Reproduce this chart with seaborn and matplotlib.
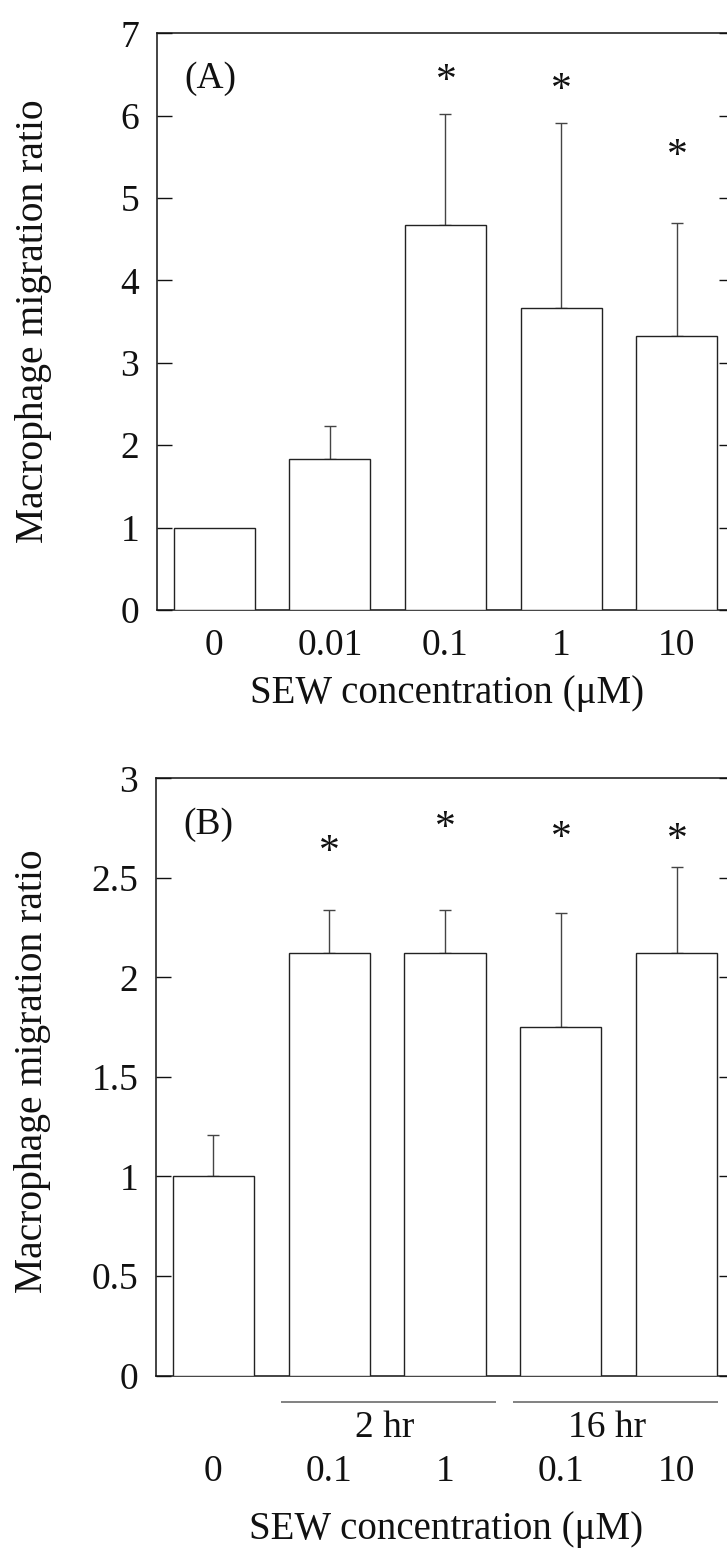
import matplotlib
matplotlib.use("Agg")
import matplotlib.pyplot as plt
import matplotlib.transforms as mtransforms
from matplotlib.ticker import FuncFormatter, MultipleLocator
import numpy as np
import pandas as pd
import seaborn as sns

# ---- data -------------------------------------------------------------
# (A) dose response
conc_a = ["0", "0.01", "0.1", "1", "10"]
ratio_a = [1.0, 1.83, 4.67, 3.66, 3.33]
err_a = [0.0, 0.40, 1.35, 2.25, 1.37]
signif_a = [False, False, True, True, True]
star_y_a = [None, None, 6.51, 6.41, 5.60]

# (B) time course
cond_b = ["ctrl", "2h_0.1", "2h_1", "16h_0.1", "16h_10"]
conc_b = ["0", "0.1", "1", "0.1", "10"]
ratio_b = [1.0, 2.12, 2.12, 1.75, 2.12]
err_b = [0.21, 0.22, 0.22, 0.575, 0.435]
signif_b = [False, True, True, True, True]
star_y_b = [None, 2.67, 2.79, 2.74, 2.73]
time_groups = ["2 hr", "16 hr"]

ylabel = "Macrophage migration ratio"
xlabel = "SEW concentration (\u03bcM)"

# ---- style ------------------------------------------------------------
sns.set_theme(style="ticks")
plt.rcParams["font.family"] = ["Liberation Serif", "DejaVu Serif"]
plt.rcParams["axes.edgecolor"] = "#111111"
plt.rcParams["axes.linewidth"] = 1.1

W, H = 727, 1553
fig = plt.figure(figsize=(W / 100, H / 100), dpi=100)
fig.patch.set_facecolor("white")

TICK_FS = 27
YLABEL_FS = 28.5
XLABEL_FS = 28
STAR_FS = 30
EDGE = "#222222"
ERR = "#444444"


def px_axes(left, top, right, bottom):
    return fig.add_axes([left / W, 1 - bottom / H, (right - left) / W, (bottom - top) / H])


def draw_panel(ax, cats, vals, errs, signif, stars, ymax, ystep, tag):
    df = pd.DataFrame({"cond": cats, "ratio": vals})
    sns.barplot(data=df, x="cond", y="ratio", order=cats, color="white",
                saturation=1, edgecolor=EDGE, linewidth=1.0, width=0.70,
                errorbar=None, ax=ax, zorder=3)
    x = np.arange(len(cats))
    vals = np.asarray(vals)
    errs = np.asarray(errs)
    has = errs > 0
    ax.errorbar(x[has], vals[has], yerr=[np.zeros(has.sum()), errs[has]],
                fmt="none", ecolor=ERR, elinewidth=1.0, capsize=4,
                capthick=1.0, zorder=2)
    # asterisks: glyph centre sits about 0.45 em above the baseline
    for i, (s, sy) in enumerate(zip(signif, stars)):
        if s:
            ax.annotate("*", xy=(i, sy), xytext=(0.5, -0.45 * STAR_FS),
                        textcoords="offset points", ha="center", va="baseline",
                        fontsize=STAR_FS, color="#111111")
    ax.set_xlim(-0.5, len(cats) - 0.5)
    ax.set_ylim(0, ymax)
    ax.yaxis.set_major_locator(MultipleLocator(ystep))
    ax.yaxis.set_major_formatter(FuncFormatter(lambda v, p: f"{v:g}"))
    ax.tick_params(axis="y", direction="in", length=11, width=1.0,
                   left=True, right=True, labelright=False,
                   labelsize=TICK_FS, pad=12.5, colors="#111111")
    for sp in ax.spines.values():
        sp.set_visible(True)
    ax.set_ylabel(ylabel, fontsize=YLABEL_FS, color="#111111")
    ax.yaxis.label.set_va("center")
    ax.text(0.049, 0.922, tag, transform=ax.transAxes, ha="left", va="center",
            fontsize=TICK_FS, color="#111111")


# ---- panel A ----------------------------------------------------------
ax_a = px_axes(156.5, 33.3, 734.5, 610.0)
draw_panel(ax_a, conc_a, ratio_a, err_a, signif_a, star_y_a, 7, 1, "(A)")
ax_a.set_xticks(range(len(conc_a)))
ax_a.set_xticklabels(conc_a)
ax_a.tick_params(axis="x", length=0, labelsize=TICK_FS, pad=13, colors="#111111")
ax_a.set_xlabel(xlabel, fontsize=XLABEL_FS, color="#111111")
ax_a.xaxis.label.set_va("center")
ax_a.xaxis.set_label_coords(0.502, -0.144)
ax_a.yaxis.set_label_coords(-0.213, 0.5)

# ---- panel B ----------------------------------------------------------
ax_b = px_axes(155.5, 778.3, 734.5, 1375.5)
draw_panel(ax_b, cond_b, ratio_b, err_b, signif_b, star_y_b, 3, 0.5, "(B)")
ax_b.set_xticks(range(len(cond_b)))
ax_b.set_xticklabels(conc_b)
ax_b.tick_params(axis="x", length=0, labelsize=TICK_FS, pad=57, colors="#111111")
ax_b.set_xlabel(xlabel, fontsize=XLABEL_FS, color="#111111")
ax_b.xaxis.label.set_va("center")
ax_b.xaxis.set_label_coords(0.502, -0.2587)
ax_b.yaxis.set_label_coords(-0.213, 0.51)

# incubation-time brackets under the 2 hr and 16 hr bar pairs
trans = mtransforms.blended_transform_factory(ax_b.transData, ax_b.transAxes)
spans = [(0.58, 2.44), (2.59, 4.36)]
label_x = [1.48, 3.40]
for (x0, x1), lx, name in zip(spans, label_x, time_groups):
    ax_b.plot([x0, x1], [-0.044, -0.044], transform=trans, color="#777777",
              lw=1.3, clip_on=False, solid_capstyle="butt")
    ax_b.text(lx, -0.088, name, transform=trans, ha="center", va="center",
              fontsize=TICK_FS, color="#111111")

fig.savefig("out.png", dpi=100, facecolor="white")
